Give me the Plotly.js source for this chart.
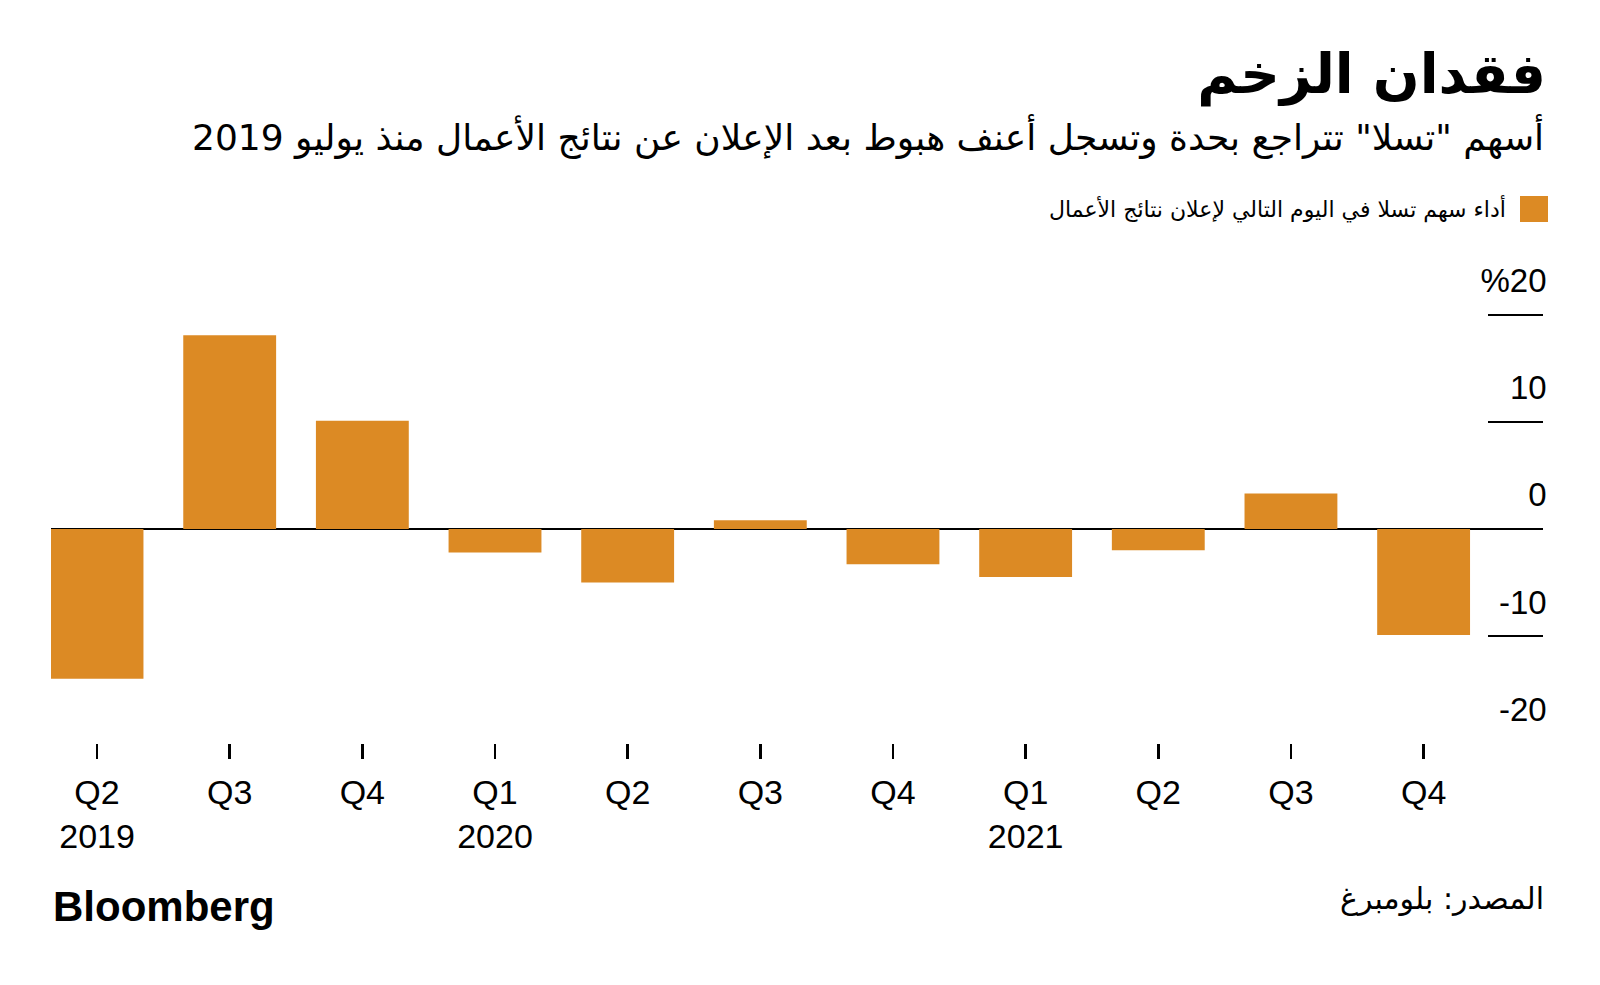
<!DOCTYPE html>
<html>
<head>
<meta charset="utf-8">
<script src="https://cdn.plot.ly/plotly-3.0.1.min.js"></script>
<style>html,body{margin:0;padding:0;background:#fff;}#chart{width:1600px;height:985px;}</style>
</head>
<body>
<div id="chart"></div>
<script>
// ---- data ----
const quarterLabels = ["Q2<br>2019", "Q3", "Q4", "Q1<br>2020", "Q2", "Q3", "Q4", "Q1<br>2021", "Q2", "Q3", "Q4"];
const nextDayMove = [-14.0, 18.1, 10.1, -2.2, -5.0, 0.8, -3.3, -4.5, -2.0, 3.3, -9.9];
const yTickVals = [20, 10, 0, -10, -20];
const yTickText = ["%20", "10", "0", "-10", "-20"];

const titleText = "فقدان الزخم";
const subtitleText = 'أسهم "تسلا" تتراجع بحدة وتسجل أعنف هبوط بعد الإعلان عن نتائج الأعمال منذ يوليو 2019';
const legendText = "أداء سهم تسلا في اليوم التالي لإعلان نتائج الأعمال";
const sourceText = "المصدر: بلومبرغ";

const barColor = "#dc8a24";
const arabicFont = "DejaVu Sans";
const latinFont = "Liberation Sans, Arial, sans-serif";

const xIdx = quarterLabels.map((_, i) => i);

const trace = {
  type: "bar",
  x: xIdx,
  y: nextDayMove,
  width: 0.7,
  marker: {color: barColor, line: {width: 0}},
  name: legendText,
  hoverinfo: "y"
};

const layout = {
  width: 1600,
  height: 985,
  margin: {l: 51, r: 57, t: 272, b: 242, pad: 0},
  paper_bgcolor: "#ffffff",
  plot_bgcolor: "#ffffff",
  showlegend: false,
  bargap: 0.3,
  title: {
    text: "<b>" + titleText + "</b>",
    font: {family: arabicFont, size: 55, color: "#000"},
    xref: "container", yref: "container",
    x: 1546 / 1600, xanchor: "right",
    y: 1 - 74 / 985, yanchor: "middle"
  },
  xaxis: {
    range: [-0.347, 10.9],
    tickmode: "array",
    tickvals: xIdx,
    ticktext: quarterLabels,
    ticks: "outside",
    ticklen: 15,
    tickwidth: 2.5,
    tickcolor: "#000",
    ticklabelstandoff: 4,
    showgrid: false,
    zeroline: false,
    showline: false,
    tickfont: {family: latinFont, size: 34, color: "#000"},
    fixedrange: true
  },
  yaxis: {
    range: [-20, 24],
    side: "right",
    tickmode: "array",
    tickvals: yTickVals,
    ticktext: yTickText,
    ticks: "inside",
    ticklen: 55,
    tickwidth: 2.5,
    tickcolor: "#000",
    ticklabelposition: "inside",
    ticklabeloverflow: "allow",
    ticklabelshift: -34,
    ticklabelstandoff: -55,
    showgrid: false,
    zeroline: true,
    zerolinecolor: "#000",
    zerolinewidth: 2.5,
    showline: false,
    layer: "above traces",
    tickfont: {family: latinFont, size: 33, color: "#000"},
    fixedrange: true
  },
  shapes: [
    {type: "rect", xref: "paper", yref: "paper",
     x0: 1469 / 1492, x1: 1497 / 1492, y0: (743 - 222) / 471, y1: (743 - 196) / 471,
     fillcolor: barColor, line: {width: 0}}
  ],
  annotations: [
    {text: subtitleText, xref: "paper", yref: "paper", x: (1546 - 51) / 1492, y: (743 - 136) / 471,
     xanchor: "right", yanchor: "middle", showarrow: false,
     font: {family: arabicFont, size: 36, color: "#000"}},
    {text: legendText, xref: "paper", yref: "paper", x: (1508 - 51) / 1492, y: (743 - 209) / 471,
     xanchor: "right", yanchor: "middle", showarrow: false,
     font: {family: arabicFont, size: 22, color: "#000"}},
    {text: sourceText, xref: "paper", yref: "paper", x: (1546 - 51) / 1492, y: (743 - 898) / 471,
     xanchor: "right", yanchor: "middle", showarrow: false,
     font: {family: arabicFont, size: 30, color: "#000"}},
    {text: "<b>Bloomberg</b>", xref: "paper", yref: "paper", x: 0, y: (743 - 906) / 471,
     xanchor: "left", yanchor: "middle", showarrow: false,
     font: {family: latinFont, size: 42, color: "#000"}}
  ]
};

Plotly.newPlot("chart", [trace], layout, {displayModeBar: false, staticPlot: true});
</script>
</body>
</html>
